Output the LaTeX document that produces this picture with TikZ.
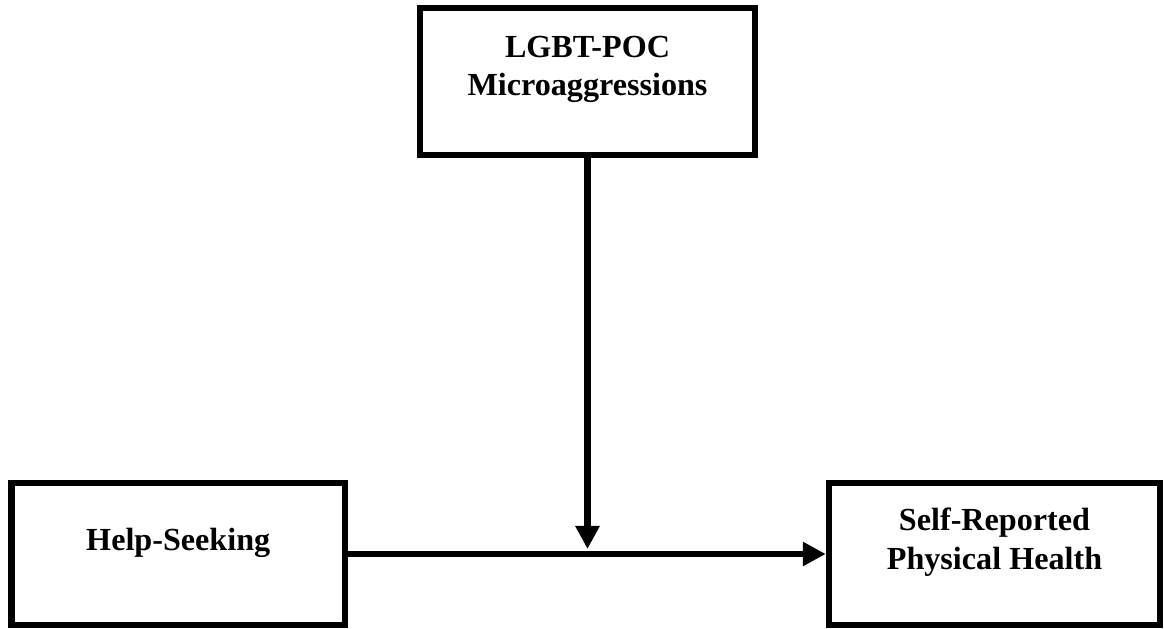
\documentclass[tikz,border=0pt]{standalone}
\usepackage{fontspec}
\setmainfont{Liberation Serif}
\usetikzlibrary{positioning, arrows.meta, calc}

\begin{document}
\begin{tikzpicture}[
    % Global Styles
    varbox/.style={
        rectangle,
        draw=black,
        line width=3.7pt,   % heavy border
        fill=white,
        minimum height=2.84cm,
        minimum width=6.66cm
    },
    vartext/.style={
        align=center,
        inner sep=0pt,
        font=\fontsize{18.3}{21.8}\selectfont\bfseries
    },
    arrow/.style={
        -{Triangle[width=0.46cm,length=0.46cm]},
        line width=3.5pt,
        draw=black
    }
]

    % Canvas
    \useasboundingbox (0,0) rectangle (23.28,12.58);

    % --- Placement of Nodes ---

    % Moderator (top)
    \node[varbox, minimum width=6.7cm, minimum height=2.94cm] (micro) at (11.75,10.95) {};
    \node[vartext] (microtext) at ([yshift=0.24cm]micro.center) {LGBT-POC\\Microaggressions};

    % Predictor (left)
    \node[varbox] (help) at (3.565,1.5) {};
    \node[vartext] (helptext) at ([yshift=0.22cm]help.center) {Help-Seeking};

    % Outcome (right)
    \node[varbox, minimum width=6.62cm] (health) at (19.89,1.5) {};
    \node[vartext] (healthtext) at ([yshift=0.24cm]health.center) {Self-Reported\\Physical Health};

    % --- Connections ---

    % Help-Seeking -> Health
    \draw[arrow] (help.east) -- (health.west);

    % Microaggressions -> path (moderation)
    \coordinate (hit) at (micro.south |- help.east);
    \draw[arrow] (micro.south) -- ([yshift=0.1cm]hit);

\end{tikzpicture}
\end{document}
